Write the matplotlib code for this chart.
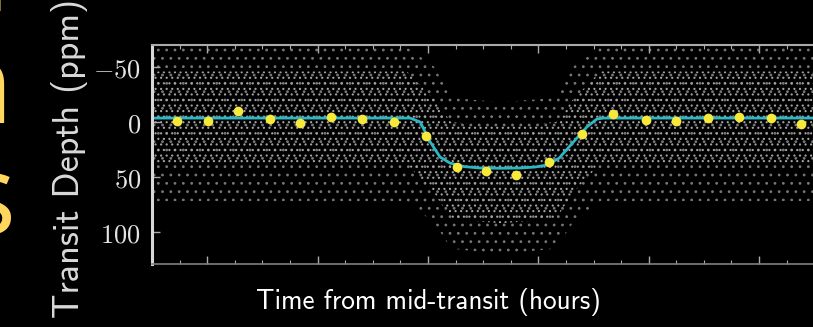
import os
import matplotlib
matplotlib.use("Agg")
import matplotlib.pyplot as plt
from matplotlib.font_manager import FontProperties
from matplotlib.ticker import MultipleLocator, NullLocator

# binned light curve (hours from mid-transit, depth in ppm)
bin_t = [-2.93, -2.65, -2.38, -2.09, -1.82, -1.54, -1.26, -0.97, -0.68, -0.40,
         -0.13, 0.14, 0.44, 0.74, 1.02, 1.32, 1.59, 1.88, 2.16, 2.45, 2.72]
bin_depth = [-0.9, -0.9, -10.0, -2.7, 0.9, -4.5, -2.7, 0.0, 12.7, 40.9,
             44.5, 48.2, 36.4, 10.9, -7.3, -1.8, -0.9, -3.6, -4.5, -3.6, 1.8]

# best-fit transit model
model_t = [-3.5, -0.82, -0.73, -0.64, -0.55, -0.46, -0.33, -0.19, 0.0,
           0.17, 0.31, 0.42, 0.53, 0.65, 0.78, 0.87, 0.93, 3.5]
model_depth = [-3.6, -3.6, 0.0, 18.0, 31.8, 37.3, 40.5, 41.8, 42.0,
               41.8, 40.9, 39.0, 32.7, 19.0, 4.5, -2.7, -3.6, -3.6]

# extent of the unbinned points cloud
cloud_t = [-3.5, -0.85, -0.6, -0.45, 0.0, 0.5, 0.65, 0.9, 3.5]
core_top = [-46, -46, -20, 0, 4, 0, -20, -46, -46]
core_bot = [38, 38, 65, 88, 92, 88, 65, 38, 38]
outer_top = [-68, -68, -50, -22, -18, -22, -50, -68, -68]
outer_bot = [72, 72, 92, 115, 120, 115, 92, 72, 72]

y_ticks = [-50, 0, 50, 100]
y_labels = [r'$-50$', r'$0$', r'$50$', r'$100$']

plt.rcParams['mathtext.fontset'] = 'cm'
plt.rcParams['hatch.linewidth'] = 0.8

ttf_dir = os.path.join(matplotlib.get_data_path(), 'fonts', 'ttf')
sans_y = FontProperties(fname=os.path.join(ttf_dir, 'cmss10.ttf'), size=26)
sans_x = FontProperties(fname=os.path.join(ttf_dir, 'cmss10.ttf'), size=19.6)

fig = plt.figure(figsize=(8.13, 3.27), dpi=100, facecolor='black')
ax = fig.add_axes([152 / 813, 63 / 327, 702 / 813, 219 / 327])
ax.set_facecolor('black')

ax.fill_between(cloud_t, outer_top, outer_bot, facecolor='none',
                edgecolor='#777777', hatch='..', lw=0)
ax.fill_between(cloud_t, core_top, core_bot, facecolor='none',
                edgecolor='#a2a2a2', hatch='...', lw=0)
ax.plot(model_t, model_depth, color='#2bb8c4', lw=2)
ax.plot(bin_t, bin_depth, 'o', color='#f6e93c', ms=7, mec='none')

ax.set_xlim(-3.16, 3.2)
ax.set_ylim(129, -70)

ax.xaxis.set_major_locator(MultipleLocator(1.0, offset=0.34))
ax.xaxis.set_minor_locator(MultipleLocator(0.25, offset=0.09))
ax.set_yticks(y_ticks, labels=y_labels)
ax.yaxis.set_minor_locator(NullLocator())
ax.tick_params(which='both', direction='in', top=True, bottom=True,
               left=True, right=False, labelbottom=False, color='#aaaaaa')
ax.tick_params(which='major', length=6, width=1)
ax.tick_params(which='minor', length=3, width=0.8)
ax.tick_params(axis='y', labelsize=19, labelcolor='#e4e4e4', pad=8)

ax.spines['left'].set_color('#d8d8d8')
ax.spines['left'].set_linewidth(2.2)
ax.spines['top'].set_color('#aaaaaa')
ax.spines['top'].set_linewidth(1.5)
ax.spines['bottom'].set_color('#808080')
ax.spines['bottom'].set_linewidth(1.2)
ax.spines['right'].set_visible(False)

fig.text(70 / 813, 1 - 158 / 327, 'Transit Depth (ppm)', rotation=90,
         fontproperties=sans_y, color='#d9d9d9', ha='center', va='center')
fig.text(428 / 813, 1 - 302 / 327, 'Time from mid-transit (hours)',
         fontproperties=sans_x, color='white', ha='center', va='center')

# slide title letters cut off at the left edge
for s, x, y in [('i', 9, 11), ('n', 13, 123), ('s', 15, 234)]:
    fig.text(x / 813, 1 - y / 327, s, family='Open Sans', fontsize=80,
             color='#ffd75e', ha='right', va='baseline')

fig.savefig('out.png', dpi=100, facecolor='black')
